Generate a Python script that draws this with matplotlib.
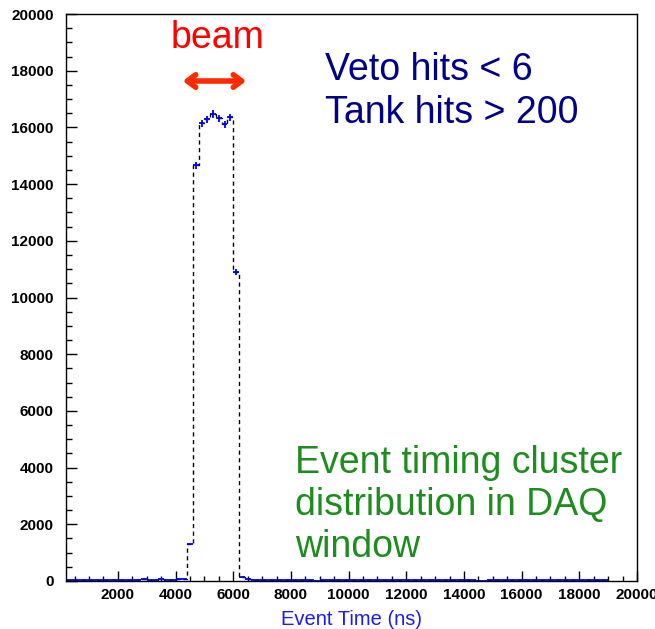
import numpy as np
import matplotlib.pyplot as plt
from matplotlib.ticker import MultipleLocator

plt.rcParams['font.family'] = ['Liberation Sans', 'DejaVu Sans']

# 200 ns bins from 200 to 19000 ns
bin_lo = 200
bin_w = 200
pre_beam = [40, 45, 38, 42, 47, 41, 39, 44, 43, 40, 46, 52, 48, 55, 50, 49, 53, 47, 51, 56, 60]
beam_bins = [1290, 14660, 16140, 16290, 16470, 16320, 16110, 16360, 10910, 130]
post_beam = [55, 48, 45, 50, 47, 44, 49, 52, 46, 43, 48, 41, 0, 44, 47, 45, 50, 42, 46, 49,
             44, 43, 47, 45, 48, 46, 42, 44, 49, 47, 45, 43, 46, 48, 44, 41, 45, 47, 43, 40,
             0, 12, 20, 38, 44, 46, 42, 45, 47, 43, 44, 46, 42, 48, 45, 43, 47, 44, 46, 42,
             45, 44, 41]
counts = np.array(pre_beam + beam_bins + post_beam, dtype=float)
edges = bin_lo + bin_w * np.arange(len(counts) + 1)
centers = 0.5 * (edges[:-1] + edges[1:])

fig = plt.figure(figsize=(6.55, 6.29), dpi=100)
ax = fig.add_axes([66/655, 1-581/629, 571/655, 567/629])

# dashed connectors between bins, then the blue bin contents with sqrt(N) errors
ax.stairs(counts, edges, color='black', linestyle=(0, (3, 2.5)), linewidth=1.0, baseline=None)
ax.hlines(counts, edges[:-1], edges[1:], color='#0000ee', linewidth=1.3)
big = counts > 5000
ax.errorbar(centers[big], counts[big], yerr=np.sqrt(counts[big]), fmt='none',
            ecolor='#0000ee', elinewidth=1.3, capsize=0)

ax.set_xlim(200, 20000)
ax.set_ylim(0, 20000)
ax.xaxis.set_major_locator(MultipleLocator(2000))
ax.xaxis.set_minor_locator(MultipleLocator(500))
ax.yaxis.set_major_locator(MultipleLocator(2000))
ax.yaxis.set_minor_locator(MultipleLocator(500))
ax.tick_params(axis='both', which='both', direction='in', top=False, right=False, width=1)
ax.tick_params(axis='y', which='major', length=8, pad=9)
ax.tick_params(axis='y', which='minor', length=4)
ax.tick_params(axis='x', which='major', length=7, pad=5)
ax.tick_params(axis='x', which='minor', length=3.5)
for lab in ax.get_xticklabels() + ax.get_yticklabels():
    lab.set_fontweight('bold')
    lab.set_fontsize(11)
for s in ax.spines.values():
    s.set_linewidth(1.0)

ax.set_xlabel('Event Time (ns)', color='#1a1aff', fontsize=14.5, labelpad=6)

# beam annotation
fig.text(218/655, 1-38/629, 'beam', color='#ff0000', fontsize=27, ha='center', va='center')
ax.annotate('', xy=(249, 629-81), xytext=(180, 629-81), xycoords='figure pixels',
            textcoords='figure pixels',
            arrowprops=dict(arrowstyle='<->,head_length=0.6,head_width=0.45',
                            color='#ff2a00', lw=4))

fig.text(325/655, 1-70/629, 'Veto hits < 6', color='#00008b', fontsize=27, ha='left', va='center')
fig.text(325/655, 1-113/629, 'Tank hits > 200', color='#00008b', fontsize=27, ha='left', va='center')

fig.text(295/655, 1-505/629, 'Event timing cluster\ndistribution in DAQ\nwindow',
         color='#1e8c1e', fontsize=27, ha='left', va='center', linespacing=1.22)

plt.savefig('out.png', dpi=100)
